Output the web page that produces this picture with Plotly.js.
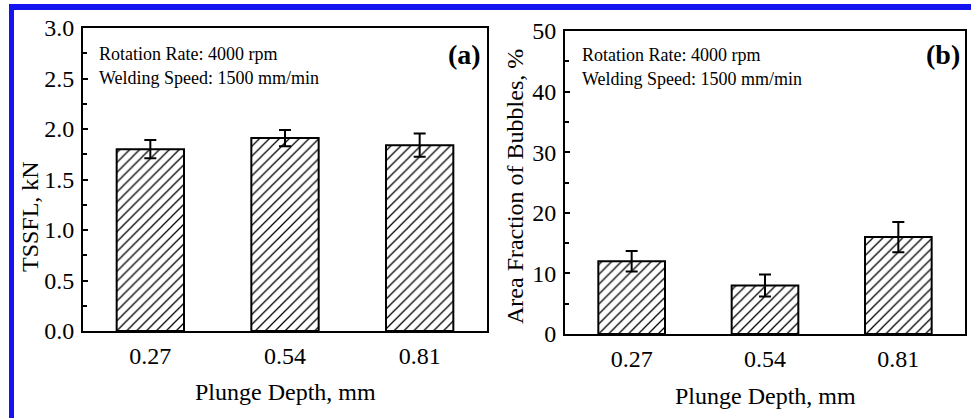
<!DOCTYPE html>
<html>
<head>
<meta charset="utf-8">
<script src="https://cdn.plot.ly/plotly-3.0.1.min.js"></script>
<style>
  html, body { margin: 0; padding: 0; background: #fff; }
  #wrap { position: relative; width: 971px; height: 418px; overflow: hidden; }
  #chart { position: absolute; left: 0; top: 0; width: 971px; height: 418px; }
  #frame { position: absolute; left: 9px; top: 4px; width: 980px; height: 408px;
           border-left: 5px solid #1414f0; border-top: 6px solid #1414f0; border-bottom: 3px solid #1414f0;
           pointer-events: none; }
</style>
</head>
<body>
<div id="wrap"><div id="chart"></div><div id="frame"></div></div>
<script>
// ---- data ----
const depths = ['0.27', '0.54', '0.81'];
const tssfl = [1.80, 1.91, 1.84];
const tssflErr = [0.09, 0.08, 0.115];
const bubbles = [12.0, 8.0, 16.0];
const bubblesErr = [1.7, 1.8, 2.5];
const yTicksA = [0, 0.5, 1.0, 1.5, 2.0, 2.5, 3.0];
const yTickTextA = ['0.0', '0.5', '1.0', '1.5', '2.0', '2.5', '3.0'];
const yTicksB = [0, 10, 20, 30, 40, 50];
const xTitle = 'Plunge Depth, mm';
const yTitleA = 'TSSFL, kN';
const yTitleB = 'Area Fraction of Bubbles, %';
const noteLines = ['Rotation Rate: 4000 rpm', 'Welding Speed: 1500 mm/min'];

const W = 971, H = 418;
const px = v => v / W;
const py = v => 1 - v / H;
const FONT = '"Liberation Serif", "Times New Roman", serif';

const pattern = { shape: '/', size: 7, solidity: 0.18, fgcolor: '#000', bgcolor: '#fff', fillmode: 'replace' };

function barTrace(y, err, xa, ya) {
  return {
    type: 'bar', x: depths, y: y, xaxis: xa, yaxis: ya, width: 0.5,
    marker: { color: '#fff', pattern: pattern, line: { color: '#000', width: 2 } },
    error_y: { type: 'data', array: err, visible: true, color: '#000', thickness: 2, width: 6 },
    showlegend: false, hoverinfo: 'skip'
  };
}

const data = [
  barTrace(tssfl, tssflErr, 'x', 'y'),
  barTrace(bubbles, bubblesErr, 'x2', 'y2')
];

function xAxis(dom, anchor) {
  return {
    domain: dom, anchor: anchor, type: 'category', range: [-0.5, 2.5],
    showline: true, mirror: true, linecolor: '#000', linewidth: 2,
    ticks: '', showgrid: false, zeroline: false, automargin: false,
    tickfont: { family: FONT, size: 24, color: '#000' }, ticklabelstandoff: 2
  };
}
function yAxis(dom, anchor, range, tickvals, ticktext, minorStep) {
  const ax = {
    domain: dom, anchor: anchor, range: range, tickvals: tickvals,
    showline: true, mirror: true, linecolor: '#000', linewidth: 2,
    ticks: 'inside', ticklen: 5, tickwidth: 2, tickcolor: '#000',
    minor: { tickvals: minorStep, ticks: 'inside', ticklen: 4, tickwidth: 2, tickcolor: '#000', showgrid: false },
    showgrid: false, zeroline: false, automargin: false,
    tickfont: { family: FONT, size: 24, color: '#000' }, ticklabelstandoff: 2
  };
  if (ticktext) ax.ticktext = ticktext;
  return ax;
}

const ann = [];
function text(t, x, y, xanchor, size, bold, angle) {
  ann.push({
    text: bold ? '<b>' + t + '</b>' : t, xref: 'paper', yref: 'paper', x: px(x), y: py(y),
    xanchor: xanchor, yanchor: 'middle', showarrow: false, textangle: angle || 0,
    font: { family: FONT, size: size, color: '#000' }
  });
}
// panel a
text(noteLines[0], 97, 54, 'left', 18);
text(noteLines[1], 97, 78, 'left', 18);
text('(a)', 483, 55, 'right', 28, true);
text(yTitleA, 30, 217, 'center', 24, false, -90);
text(xTitle, 285, 392, 'center', 24);
// panel b
text(noteLines[0], 580, 55, 'left', 18);
text(noteLines[1], 580, 79, 'left', 18);
text('(b)', 962, 55, 'right', 28, true);
text(yTitleB, 515, 187, 'center', 24, false, -90);
text(xTitle, 765, 396, 'center', 24);

const layout = {
  width: W, height: H, margin: { l: 0, r: 0, t: 0, b: 0 },
  paper_bgcolor: '#fff', plot_bgcolor: '#fff', showlegend: false,
  font: { family: FONT, color: '#000' },
  xaxis: xAxis([px(83), px(487)], 'y'),
  yaxis: yAxis([1 - 331 / H, 1 - 28 / H], 'x', [0, 3], yTicksA, yTickTextA, [0.25, 0.75, 1.25, 1.75, 2.25, 2.75]),
  xaxis2: xAxis([px(565), px(965)], 'y2'),
  yaxis2: yAxis([1 - 334 / H, 1 - 31 / H], 'x2', [0, 50], yTicksB, null, [5, 15, 25, 35, 45]),
  annotations: ann
};

Plotly.newPlot('chart', data, layout, { displayModeBar: false, staticPlot: true });
</script>
</body>
</html>
